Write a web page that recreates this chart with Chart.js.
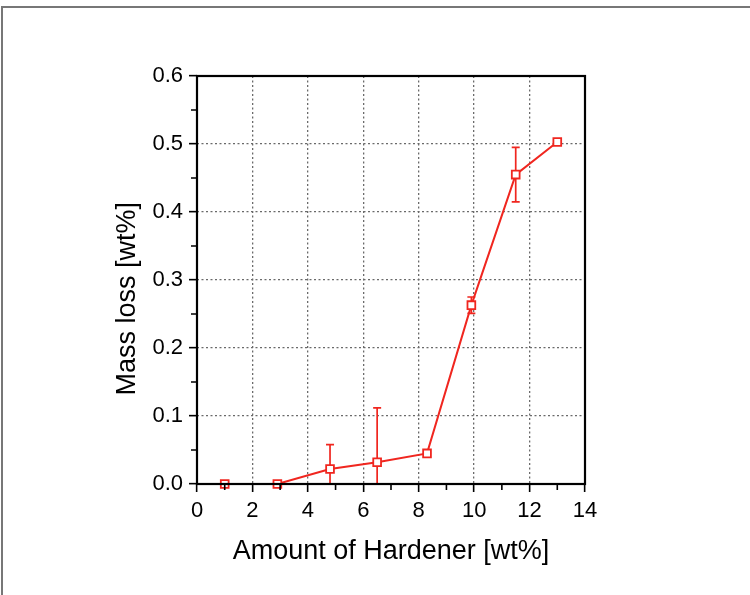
<!DOCTYPE html>
<html>
<head>
<meta charset="utf-8">
<script src="https://cdn.jsdelivr.net/npm/chart.js@4.4.1/dist/chart.umd.min.js"></script>
<style>
  html, body { margin: 0; padding: 0; background: #fff; }
  #wrap { position: relative; width: 750px; height: 595px; }
  #frame {
    position: absolute; left: 1px; top: 6px; right: 0; bottom: 0;
    border-top: 2px solid #777; border-left: 2px solid #777;
    pointer-events: none;
  }
</style>
</head>
<body>
<div id="wrap">
  <canvas id="hardenerChart" width="750" height="595"></canvas>
  <div id="frame"></div>
</div>
<script>
const hardenerAmount = [1.0, 2.9, 4.8, 6.5, 8.3, 9.9, 11.5, 13.0];
const massLoss = [0.0, 0.0, 0.022, 0.032, 0.045, 0.263, 0.455, 0.503];
const massLossErr = [0.0, 0.0, 0.036, 0.08, 0.004, 0.012, 0.04, 0.003];

const red = "#f0261f";
const fontFamily = "'Liberation Sans', Arial, sans-serif";

// error bars + minor ticks + box frame, all placed through the chart scales
const extrasPlugin = {
  id: "extras",
  beforeDatasetsDraw(chart) {
    const { ctx, scales: { x, y } } = chart;
    ctx.save();
    ctx.strokeStyle = red;
    ctx.lineWidth = 1.7;
    massLossErr.forEach((e, i) => {
      if (!e) return;
      const px = x.getPixelForValue(hardenerAmount[i]);
      const lo = Math.max(massLoss[i] - e, y.min);
      const hi = massLoss[i] + e;
      const pyLo = y.getPixelForValue(lo);
      const pyHi = y.getPixelForValue(hi);
      ctx.beginPath();
      ctx.moveTo(px, pyLo);
      ctx.lineTo(px, pyHi);
      ctx.moveTo(px - 4, pyHi);
      ctx.lineTo(px + 4, pyHi);
      if (lo > y.min) {
        ctx.moveTo(px - 4, pyLo);
        ctx.lineTo(px + 4, pyLo);
      }
      ctx.stroke();
    });
    ctx.restore();
  },
  afterDraw(chart) {
    const { ctx, chartArea: a, scales: { x, y } } = chart;
    ctx.save();
    ctx.strokeStyle = "#000";
    ctx.lineWidth = 1.6;
    ctx.beginPath();
    for (let v = 1; v < 14; v += 2) {
      const px = x.getPixelForValue(v);
      ctx.moveTo(px, a.bottom);
      ctx.lineTo(px, a.bottom + 6);
    }
    for (let v = 0.05; v < 0.6; v += 0.1) {
      const py = y.getPixelForValue(v);
      ctx.moveTo(a.left, py);
      ctx.lineTo(a.left - 6, py);
    }
    ctx.stroke();
    ctx.lineWidth = 2.2;
    ctx.strokeRect(a.left, a.top, a.right - a.left, a.bottom - a.top);
    ctx.restore();
  },
};

Chart.defaults.font.family = fontFamily;
Chart.defaults.color = "#000";

new Chart(document.getElementById("hardenerChart"), {
  type: "scatter",
  data: {
    datasets: [
      {
        data: hardenerAmount.map((v, i) => ({ x: v, y: massLoss[i] })),
        showLine: true,
        borderColor: red,
        borderWidth: 2,
        pointStyle: "rect",
        pointRadius: 5.5,
        pointBorderWidth: 1.8,
        pointBorderColor: red,
        pointBackgroundColor: "#fff",
        clip: false,
      },
    ],
  },
  options: {
    responsive: false,
    animation: false,
    layout: { padding: { left: 111, right: 165, top: 76, bottom: 27 } },
    plugins: { legend: { display: false }, tooltip: { enabled: false } },
    scales: {
      x: {
        type: "linear",
        min: 0,
        max: 14,
        afterFit: (s) => { s.height = 84; },
        ticks: { stepSize: 2, padding: 6, font: { size: 22 } },
        grid: {
          color: "#6a6a6a",
          lineWidth: 1.3,
          tickColor: "#000",
          tickWidth: 1.6,
          tickLength: 8,
        },
        border: { display: false, dash: [2, 2.5] },
        title: {
          display: true,
          text: "Amount of Hardener [wt%]",
          font: { size: 27 },
          padding: 0,
        },
      },
      y: {
        min: 0,
        max: 0.6,
        afterFit: (s) => { s.width = 86; },
        ticks: {
          stepSize: 0.1,
          padding: 6,
          font: { size: 22 },
          callback: (v) => v.toFixed(1),
        },
        grid: {
          color: "#6a6a6a",
          lineWidth: 1.3,
          tickColor: "#000",
          tickWidth: 1.6,
          tickLength: 8,
        },
        border: { display: false, dash: [2, 2.5] },
        title: {
          display: true,
          // trailing spaces nudge the rotated title down like in the original
          text: "Mass loss [wt%]     ",
          font: { size: 27 },
          padding: 0,
        },
      },
    },
  },
  plugins: [extrasPlugin],
});
</script>
</body>
</html>
